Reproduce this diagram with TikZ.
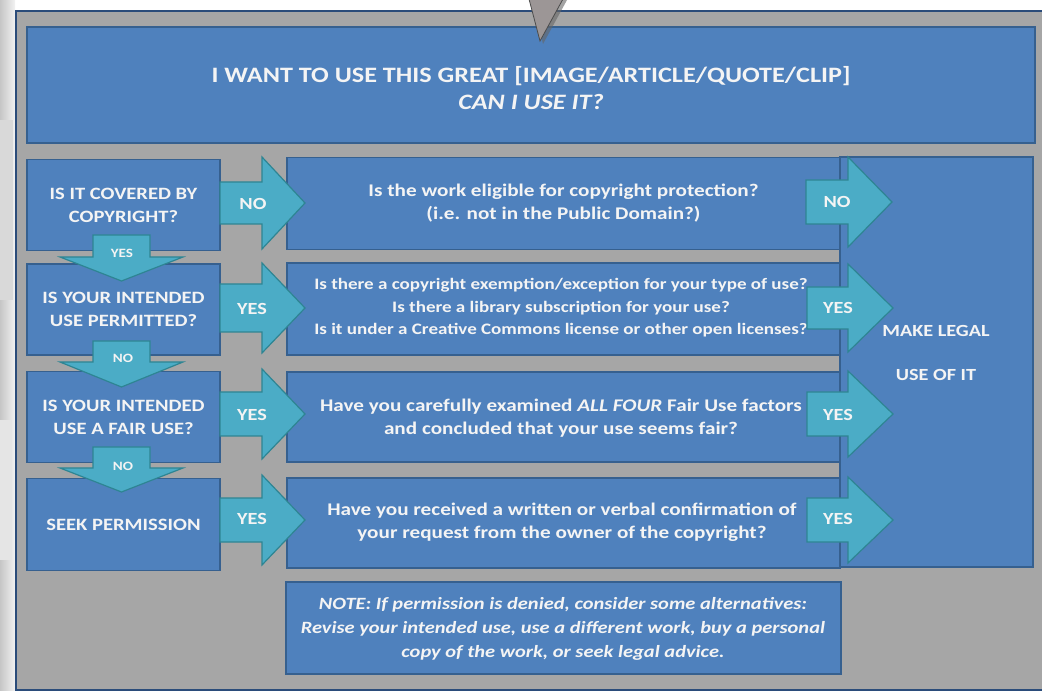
\documentclass[tikz,border=0pt]{standalone}
\usepackage{fontspec}
\setmainfont{Carlito}[FakeStretch=1.19]
\usetikzlibrary{calc,shadows}
\definecolor{boxblue}{HTML}{4F81BD}
\definecolor{boxedge}{HTML}{36608F}
\definecolor{arrfill}{HTML}{4BACC6}
\definecolor{arredge}{HTML}{2E8593}
\definecolor{panelgray}{HTML}{A6A6A6}
\definecolor{paneledge}{HTML}{2B4C7A}
\definecolor{txt}{HTML}{F4F4F4}
\definecolor{ptrgray}{HTML}{9C9696}
\tikzset{
  box/.style={draw=boxedge, line width=1.3pt, fill=boxblue, text=txt, align=center, inner sep=0pt, font=\bfseries},
  blockarr/.style={draw=arredge, line width=1.2pt, fill=arrfill, line join=miter},
  arrlabel/.style={text=txt, font=\fontsize{17}{20}\selectfont\bfseries, inner sep=0pt},
  downlabel/.style={text=txt, font=\fontsize{12.7}{14}\selectfont\bfseries, inner sep=0pt},
  lefttext/.style={font=\fontsize{17.3}{23}\selectfont\bfseries},
  midtext/.style={font=\fontsize{17.8}{23}\selectfont\bfseries},
}
% right-pointing block arrow: x-start, x-head, x-tip, y-centre, shaft half, head half
\newcommand{\myarrR}[6]{%
  \draw[blockarr] (#1,#4-#5) -- (#2,#4-#5) -- (#2,#4-#6) -- (#3,#4) -- (#2,#4+#6) -- (#2,#4+#5) -- (#1,#4+#5) -- cycle;}
% down-pointing block arrow: x-centre, y-start, y-head, y-tip, shaft half, head half
\newcommand{\myarrD}[6]{%
  \draw[blockarr] (#1-#5,#2) -- (#1+#5,#2) -- (#1+#5,#3) -- (#1+#6,#3) -- (#1,#4) -- (#1-#6,#3) -- (#1-#5,#3) -- cycle;}
\begin{document}
\begin{tikzpicture}[x=1pt,y=-1pt]
\useasboundingbox (0,0) rectangle (1042,700);
\fill[white] (0,0) rectangle (1042,700);
% background photo strip at left
\shade[left color=gray!45, right color=gray!10] (0,0) rectangle (15,690);
\fill[gray!30] (0,120) rectangle (13,300);
\fill[gray!20] (0,420) rectangle (12,560);
% panel
\draw[paneledge, line width=2pt, fill=panelgray] (16,11) rectangle (1046,690);
% title
\node[box, minimum width=1008pt, minimum height=116pt] (title) at (531,85) {};
\node[text=txt, align=center, font=\fontsize{22}{27}\selectfont\bfseries] (titletext) at (531,88)
  {I WANT TO USE THIS GREAT [IMAGE/ARTICLE/QUOTE/CLIP]\\ \itshape CAN I USE IT?};
% left column
\node[box, lefttext, minimum width=193pt, minimum height=91pt] (q1) at (123.5,205) {IS IT COVERED BY\\COPYRIGHT?};
\node[box, lefttext, minimum width=193pt, minimum height=91pt] (q2) at (123.5,309.5) {IS YOUR INTENDED\\USE PERMITTED?};
\node[box, lefttext, minimum width=193pt, minimum height=91pt] (q3) at (123.5,417) {IS YOUR INTENDED\\USE A FAIR USE?};
\node[box, lefttext, minimum width=193pt, minimum height=92pt] (q4) at (123.5,524.5) {SEEK PERMISSION};
% middle column
\node[box, midtext, minimum width=553pt, minimum height=92pt] (m1) at (563.5,203.5) {Is the work eligible for copyright protection?\\(i.e. not in the Public Domain?)};
\node[box, midtext, minimum width=553pt, minimum height=92pt] (m2) at (563.5,309) {};
\node[box, midtext, minimum width=553pt, minimum height=90pt] (m3) at (563.5,417) {};
\node[box, midtext, minimum width=553pt, minimum height=90pt] (m4) at (563.5,523) {};
\node[box, midtext, minimum width=555pt, minimum height=92pt] (note) at (563.5,628) {};
% right result box
\node[box, minimum width=193pt, minimum height=410pt] (res) at (936.5,362) {};
% middle texts
\node[text=txt, align=center, inner sep=0pt, font=\fontsize{16}{22.5}\selectfont\bfseries] (m2t) at (561,308) {Is there a copyright exemption/exception for your type of use?\\Is there a library subscription for your use?\\Is it under a Creative Commons license or other open licenses?};
\node[text=txt, midtext, align=center, inner sep=0pt] (m3t) at (561,418.5) {Have you carefully examined \textit{ALL FOUR} Fair Use factors\\and concluded that your use seems fair?};
\node[text=txt, midtext, align=center, inner sep=0pt] (m4t) at (562,522.5) {Have you received a written or verbal confirmation of\\your request from the owner of the copyright?};
\node[text=txt, align=center, inner sep=0pt, font=\fontsize{17.2}{24}\selectfont\bfseries\itshape] (notet) at (563,629) {NOTE: If permission is denied, consider some alternatives:\\Revise your intended use, use a different work, buy a personal\\copy of the work, or seek legal advice.};
\node[text=txt, align=center, inner sep=0pt, font=\fontsize{17}{44}\selectfont\bfseries] (rest) at (936,353) {MAKE LEGAL\\USE OF IT};
% horizontal arrows left -> middle
\myarrR{220}{262}{305}{203}{21}{46}
\myarrR{220}{262}{305}{308}{24}{45}
\myarrR{220}{262}{305}{414}{22}{45}
\myarrR{220}{262}{305}{520}{22}{45}
\node[arrlabel] (a1) at (253,204) {NO};
\node[arrlabel] (a2) at (252,309) {YES};
\node[arrlabel] (a3) at (252,415) {YES};
\node[arrlabel] (a4) at (252,519) {YES};
% arrows middle -> result
\myarrR{806}{848}{892}{202}{22}{45}
\myarrR{807}{848}{893}{308}{21}{44}
\myarrR{807}{848}{893}{414}{22}{43}
\myarrR{807}{848}{893}{520}{22}{43}
\node[arrlabel] (b1) at (837,202) {NO};
\node[arrlabel] (b2) at (838,308) {YES};
\node[arrlabel] (b3) at (838,415) {YES};
\node[arrlabel] (b4) at (838,519) {YES};
% down arrows
\myarrD{121.5}{235}{257}{281}{28.5}{61.5}
\myarrD{121.5}{341}{362}{387}{28.5}{61.5}
\myarrD{121.5}{447}{468}{492}{28.5}{61.5}
\node[downlabel] (d1) at (122,253) {YES};
\node[downlabel] (d2) at (123,358) {NO};
\node[downlabel] (d3) at (123,466) {NO};
% pointer at top
\fill[black!60, opacity=0.6] (533,0) -- (567,0) -- (543,44) -- cycle;
\draw[black!70, fill=ptrgray, line width=0.8pt] (529,-1) -- (563,-1) -- (540,41) -- cycle;
\end{tikzpicture}
\end{document}
